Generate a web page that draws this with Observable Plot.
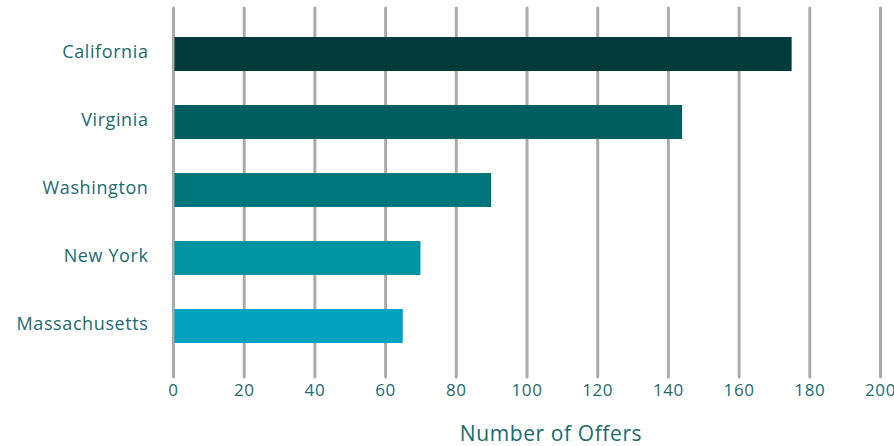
<!DOCTYPE html>
<html>
<head>
<meta charset="utf-8">
<script src="https://cdn.jsdelivr.net/npm/d3@7"></script>
<script src="https://cdn.jsdelivr.net/npm/@observablehq/plot@0.6"></script>
<style>
  html, body { margin: 0; padding: 0; background: #fff; }
  #chart svg { display: block; }
  #chart svg text { letter-spacing: 0.6px; }
</style>
</head>
<body>
<div id="chart"></div>
<script>
const states = ["California", "Virginia", "Washington", "New York", "Massachusetts"];
const offers = [175, 144, 90, 70, 65];
const barColors = ["#033a3a", "#005e5e", "#00767a", "#0093a0", "#00a2bf"];
const xTicks = [0, 20, 40, 60, 80, 100, 120, 140, 160, 180, 200];
const axisTitle = "Number of Offers";

const data = states.map((s, i) => ({state: s, offers: offers[i], color: barColors[i]}));
const textColor = "#216b6e";
const font = "'Open Sans', sans-serif";

const chart = Plot.plot({
  width: 894,
  height: 446,
  marginLeft: 173,
  marginRight: 14,
  marginTop: 8,
  marginBottom: 69,
  style: {fontFamily: font, background: "#fff", overflow: "visible"},
  x: {domain: [0, 200], ticks: xTicks},
  y: {domain: states, paddingInner: 0.5, paddingOuter: 0.463, align: 0.46},
  marks: [
    Plot.ruleX(xTicks, {stroke: "#aaaaaa", strokeWidth: 3, strokeLinecap: "round"}),
    Plot.barX(data, {y: "state", x: "offers", fill: "color", insetLeft: 1.5}),
    Plot.axisX({ticks: xTicks, tickSize: 0, tickPadding: 6, fontSize: 17, fill: textColor, label: null}),
    Plot.axisY({tickSize: 0, tickPadding: 25, fontSize: 18, dy: -2, fill: textColor, label: null}),
    Plot.text([axisTitle], {frameAnchor: "bottom", dx: 24, dy: 63, lineAnchor: "bottom", fontSize: 21, fill: textColor})
  ]
});
document.getElementById("chart").appendChild(chart);
</script>
</body>
</html>
